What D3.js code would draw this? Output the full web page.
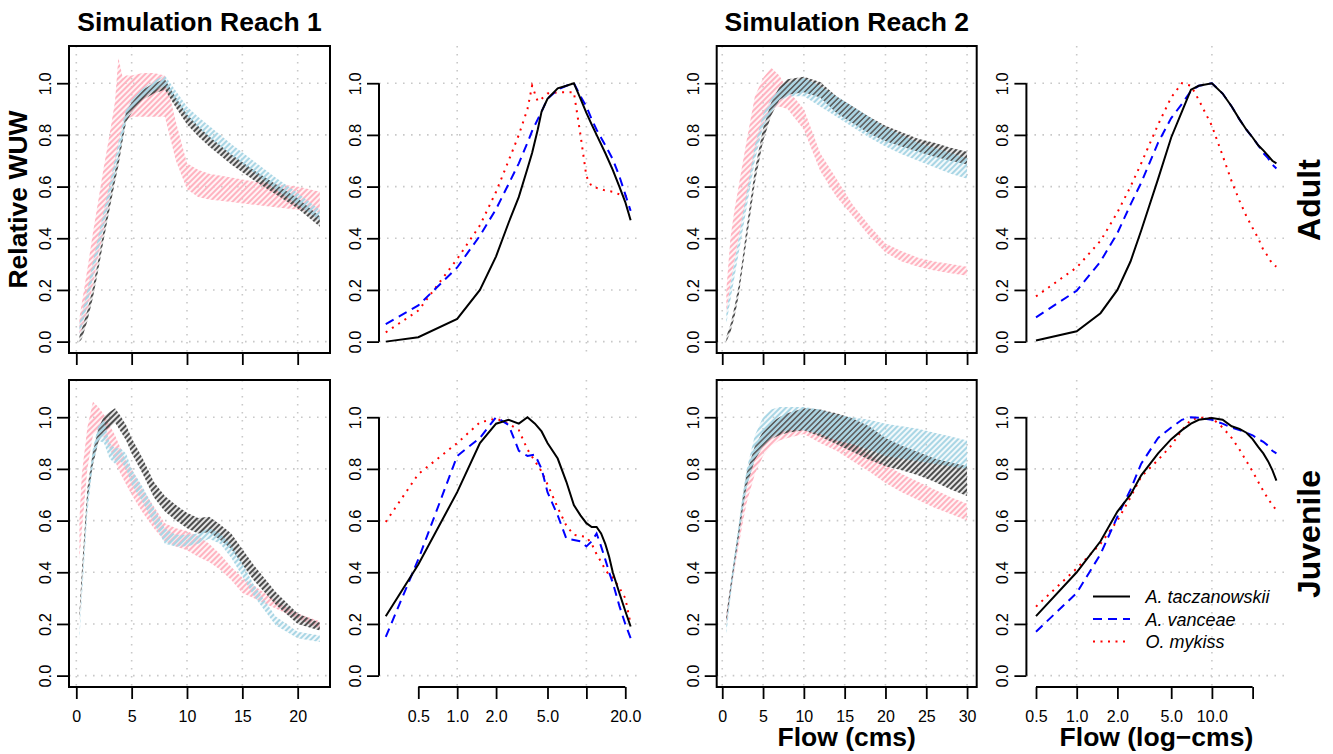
<!DOCTYPE html>
<html>
<head>
<meta charset="utf-8">
<script src="https://cdn.jsdelivr.net/npm/d3@7"></script>
<style>
  body { margin: 0; background: #fff; }
  svg text { font-family: "Liberation Sans", Arial, Helvetica, sans-serif; fill: #000; }
</style>
</head>
<body>
<svg id="chart" width="1333" height="754"></svg>
<script>
// ---------- data (relative WUW) ----------
const speciesNames = ["A. taczanowskii", "A. vanceae", "O. mykiss"];
const yTicks = [0, 0.2, 0.4, 0.6, 0.8, 1.0];

// Reach 1, adult
const r1AdultFlow  = [0.28,0.5,1,1.5,2,2.5,3,3.5,3.8,4.2,4.5,5,6,7,8,9,10,11,12,14,16,18,20,22];
const r1AdultTacLo = [0.00,0.01,0.08,0.17,0.28,0.40,0.51,0.62,0.68,0.78,0.85,0.885,0.935,0.96,0.975,0.905,0.84,0.795,0.755,0.685,0.625,0.57,0.515,0.445];
const r1AdultTacHi = [0.02,0.05,0.12,0.21,0.32,0.44,0.55,0.66,0.72,0.82,0.89,0.925,0.975,1.0,1.015,0.945,0.88,0.835,0.795,0.725,0.665,0.61,0.555,0.485];
const r1AdultVanLo = [0.03,0.06,0.14,0.25,0.35,0.45,0.55,0.65,0.71,0.79,0.86,0.90,0.945,0.97,0.99,0.93,0.87,0.83,0.79,0.72,0.655,0.59,0.53,0.47];
const r1AdultVanHi = [0.07,0.11,0.20,0.31,0.41,0.51,0.61,0.71,0.77,0.85,0.90,0.935,0.98,1.01,1.03,0.97,0.91,0.87,0.835,0.765,0.70,0.635,0.575,0.51];
const r1AdultMykLo = [0.03,0.05,0.12,0.22,0.33,0.44,0.56,0.68,0.76,0.84,0.86,0.87,0.87,0.87,0.87,0.70,0.59,0.56,0.55,0.54,0.53,0.52,0.51,0.50];
const r1AdultMykHi = [0.09,0.15,0.28,0.42,0.55,0.68,0.80,0.93,1.10,1.02,1.03,1.03,1.04,1.04,1.03,0.85,0.69,0.665,0.65,0.635,0.62,0.61,0.60,0.58];
const r1AdultTacMean = [0.0,0.017,0.088,0.20,0.33,0.46,0.56,0.67,0.73,0.82,0.89,0.94,0.98,0.99,1.0,0.94,0.885,0.84,0.80,0.73,0.665,0.60,0.54,0.47];
const r1AdultVanMean = [0.068,0.14,0.287,0.41,0.513,0.61,0.69,0.77,0.815,0.86,0.89,0.94,0.975,0.99,1.0,0.95,0.91,0.86,0.82,0.76,0.706,0.64,0.57,0.506];
const r1AdultMykMean = [0.036,0.12,0.32,0.45,0.58,0.70,0.80,0.90,0.99,0.93,0.94,0.96,0.965,0.965,0.965,0.80,0.64,0.60,0.595,0.585,0.58,0.57,0.565,0.55];

// Reach 2, adult
const r2AdultFlow  = [0.5,1,1.5,2,2.5,3,4,5,6,7,8,10,12,14,16,18,20,22,24,26,28,30];
const r2AdultTacLo = [0.00,0.035,0.095,0.175,0.285,0.395,0.615,0.775,0.875,0.935,0.955,0.965,0.945,0.885,0.845,0.805,0.775,0.755,0.735,0.715,0.70,0.685];
const r2AdultTacHi = [0.02,0.065,0.135,0.215,0.325,0.445,0.665,0.825,0.925,0.985,1.015,1.025,1.005,0.95,0.91,0.87,0.835,0.81,0.785,0.77,0.75,0.735];
const r2AdultVanLo = [0.07,0.16,0.25,0.34,0.43,0.52,0.70,0.83,0.89,0.93,0.95,0.95,0.91,0.87,0.83,0.79,0.755,0.725,0.70,0.675,0.65,0.63];
const r2AdultVanHi = [0.11,0.22,0.31,0.40,0.49,0.58,0.76,0.88,0.94,0.98,1.0,1.02,0.99,0.95,0.91,0.87,0.83,0.80,0.77,0.75,0.73,0.71];
const r2AdultMykLo = [0.11,0.22,0.31,0.40,0.48,0.56,0.73,0.84,0.90,0.91,0.90,0.82,0.66,0.56,0.485,0.41,0.345,0.31,0.29,0.275,0.265,0.255];
const r2AdultMykHi = [0.20,0.40,0.51,0.60,0.69,0.78,0.95,1.02,1.06,1.03,0.975,0.90,0.73,0.63,0.53,0.45,0.38,0.35,0.325,0.31,0.30,0.29];
const r2AdultTacMean = [0.004,0.04,0.11,0.20,0.31,0.43,0.63,0.79,0.89,0.975,0.99,1.0,0.96,0.91,0.86,0.82,0.79,0.76,0.74,0.72,0.70,0.69];
const r2AdultVanMean = [0.094,0.197,0.31,0.42,0.53,0.615,0.77,0.865,0.92,0.97,0.99,1.0,0.96,0.91,0.86,0.82,0.79,0.76,0.73,0.71,0.685,0.67];
const r2AdultMykMean = [0.175,0.287,0.39,0.50,0.60,0.69,0.84,0.945,1.0,0.99,0.935,0.835,0.72,0.62,0.545,0.485,0.44,0.40,0.355,0.33,0.30,0.29];

// Reach 1, juvenile
const r1JuvFlow  = [0.28,0.5,1,1.5,2,2.5,3,3.5,4,4.5,5,6,7,8,9,10,11,12,13,14,15,16,18,20,22];
const r1JuvTacLo = [0.215,0.355,0.675,0.815,0.905,0.945,0.96,0.98,0.945,0.91,0.86,0.78,0.69,0.635,0.60,0.57,0.55,0.555,0.525,0.49,0.43,0.37,0.275,0.20,0.175];
const r1JuvTacHi = [0.245,0.405,0.725,0.865,0.955,1.005,1.02,1.035,1.005,0.97,0.92,0.84,0.75,0.695,0.66,0.63,0.61,0.615,0.585,0.55,0.49,0.43,0.325,0.24,0.205];
const r1JuvVanLo = [0.14,0.30,0.63,0.82,0.91,0.90,0.84,0.82,0.83,0.80,0.74,0.67,0.59,0.51,0.50,0.50,0.51,0.53,0.51,0.455,0.385,0.31,0.195,0.145,0.13];
const r1JuvVanHi = [0.16,0.34,0.69,0.88,0.97,0.99,0.90,0.88,0.88,0.86,0.80,0.73,0.65,0.57,0.545,0.545,0.55,0.57,0.55,0.505,0.435,0.355,0.23,0.17,0.155];
const r1JuvMykLo = [0.45,0.56,0.80,0.93,0.95,0.92,0.88,0.83,0.78,0.74,0.70,0.63,0.57,0.52,0.50,0.485,0.46,0.44,0.41,0.37,0.32,0.30,0.26,0.22,0.18];
const r1JuvMykHi = [0.60,0.78,0.96,1.06,1.04,1.01,0.97,0.93,0.88,0.83,0.80,0.72,0.655,0.59,0.57,0.56,0.54,0.51,0.47,0.42,0.38,0.35,0.29,0.24,0.21];
const r1JuvTacMean = [0.23,0.43,0.71,0.90,0.975,0.99,0.975,1.0,0.975,0.945,0.90,0.84,0.75,0.66,0.62,0.59,0.575,0.575,0.55,0.51,0.46,0.40,0.32,0.25,0.19];
const r1JuvVanMean = [0.15,0.45,0.85,0.92,1.0,0.97,0.87,0.85,0.855,0.80,0.71,0.62,0.53,0.525,0.52,0.50,0.52,0.55,0.50,0.45,0.40,0.36,0.27,0.20,0.145];
const r1JuvMykMean = [0.595,0.78,0.90,0.98,0.995,0.975,0.95,0.875,0.83,0.79,0.74,0.65,0.58,0.545,0.54,0.537,0.51,0.47,0.44,0.41,0.39,0.38,0.34,0.30,0.20];

// Reach 2, juvenile
const r2JuvFlow  = [0.5,1,1.5,2,2.5,3,4,5,6,7,8,10,12,14,16,18,20,22,24,26,28,30];
const r2JuvTacLo = [0.205,0.315,0.425,0.53,0.64,0.735,0.835,0.885,0.915,0.93,0.94,0.95,0.925,0.895,0.865,0.835,0.81,0.795,0.775,0.75,0.72,0.695];
const r2JuvTacHi = [0.235,0.35,0.46,0.57,0.685,0.785,0.89,0.945,0.98,1.0,1.015,1.035,1.03,1.015,0.995,0.965,0.92,0.89,0.865,0.84,0.825,0.81];
const r2JuvVanLo = [0.16,0.30,0.42,0.53,0.64,0.73,0.84,0.89,0.92,0.94,0.95,0.95,0.935,0.91,0.895,0.875,0.85,0.84,0.83,0.82,0.81,0.80];
const r2JuvVanHi = [0.20,0.35,0.47,0.58,0.70,0.80,0.93,1.0,1.03,1.04,1.04,1.04,1.03,1.01,1.0,0.99,0.975,0.965,0.955,0.94,0.925,0.91];
const r2JuvMykLo = [0.20,0.31,0.41,0.50,0.59,0.67,0.78,0.85,0.89,0.91,0.92,0.935,0.90,0.87,0.83,0.79,0.745,0.71,0.68,0.65,0.625,0.60];
const r2JuvMykHi = [0.23,0.35,0.45,0.55,0.65,0.74,0.85,0.91,0.96,0.99,1.02,1.015,0.98,0.94,0.90,0.855,0.815,0.78,0.75,0.72,0.69,0.665];
const r2JuvTacMean = [0.23,0.40,0.52,0.635,0.70,0.775,0.86,0.915,0.95,0.975,0.99,0.997,0.99,0.965,0.955,0.94,0.915,0.885,0.86,0.83,0.795,0.755];
const r2JuvVanMean = [0.17,0.32,0.47,0.615,0.72,0.82,0.92,0.96,0.99,1.0,0.998,0.99,0.975,0.96,0.95,0.94,0.93,0.915,0.905,0.89,0.87,0.86];
const r2JuvMykMean = [0.267,0.415,0.51,0.60,0.69,0.77,0.835,0.89,0.95,0.99,0.998,0.997,0.96,0.92,0.875,0.83,0.79,0.75,0.715,0.685,0.66,0.64];

// axis tick labels
const linTicks1 = [0, 5, 10, 15, 20];
const linTicks2 = [0, 5, 10, 15, 20, 25, 30];
const logTicks = [0.5, 1, 2, 5, 10, 20];
const logLabels2 = ["0.5", "1.0", "2.0", "5.0", "", "20.0"];
const logLabels4 = ["0.5", "1.0", "2.0", "5.0", "10.0", ""];

// ---------- layout ----------
const bandColors = ["#4d4d4d", "#a9d6e5", "#ffb3c0"];
const lineColors = ["#000", "#0000ff", "#ff0000"];
const lineDash = [null, "9,6", "2,5.5"];
const drawOrder = [2, 0, 1]; // pink first, then grey, then blue

const rows = [{top: 46, bottom: 353}, {top: 380, bottom: 687}];
const cols = [
  {left: 69,     right: 330,    log: false, domain: [-0.66, 22.92], ticks: linTicks1, labels: null, grid: linTicks1, box: true},
  {left: 379,    right: 641,    log: true,  domain: [0.2482, 26.47], ticks: logTicks, labels: logLabels2, grid: [1, 10], box: false},
  {left: 716.7,  right: 976.7,  log: false, domain: [-0.68, 31.18], ticks: linTicks2, labels: null, grid: linTicks2, box: true},
  {left: 1026.4, right: 1286.4, log: true,  domain: [0.4246, 35.56], ticks: logTicks, labels: logLabels4, grid: [1, 10], box: false}
];

const panels = [
  {row: 0, col: 0, flow: r1AdultFlow, lo: [r1AdultTacLo, r1AdultVanLo, r1AdultMykLo], hi: [r1AdultTacHi, r1AdultVanHi, r1AdultMykHi]},
  {row: 0, col: 1, flow: r1AdultFlow, lines: [r1AdultTacMean, r1AdultVanMean, r1AdultMykMean]},
  {row: 0, col: 2, flow: r2AdultFlow, lo: [r2AdultTacLo, r2AdultVanLo, r2AdultMykLo], hi: [r2AdultTacHi, r2AdultVanHi, r2AdultMykHi]},
  {row: 0, col: 3, flow: r2AdultFlow, lines: [r2AdultTacMean, r2AdultVanMean, r2AdultMykMean]},
  {row: 1, col: 0, flow: r1JuvFlow, lo: [r1JuvTacLo, r1JuvVanLo, r1JuvMykLo], hi: [r1JuvTacHi, r1JuvVanHi, r1JuvMykHi]},
  {row: 1, col: 1, flow: r1JuvFlow, lines: [r1JuvTacMean, r1JuvVanMean, r1JuvMykMean]},
  {row: 1, col: 2, flow: r2JuvFlow, lo: [r2JuvTacLo, r2JuvVanLo, r2JuvMykLo], hi: [r2JuvTacHi, r2JuvVanHi, r2JuvMykHi]},
  {row: 1, col: 3, flow: r2JuvFlow, lines: [r2JuvTacMean, r2JuvVanMean, r2JuvMykMean]}
];

const svg = d3.select("#chart");
const defs = svg.append("defs");

// diagonal hatching like R's polygon(density=, angle=45)
const hatchOffset = [0, 2, 1];
bandColors.forEach((c, i) => {
  const p = defs.append("pattern")
    .attr("id", "hatch" + i)
    .attr("patternUnits", "userSpaceOnUse")
    .attr("width", 4).attr("height", 10)
    .attr("patternTransform", `rotate(45) translate(${hatchOffset[i]},0)`);
  p.append("line")
    .attr("x1", 2).attr("x2", 2).attr("y1", 0).attr("y2", 10)
    .attr("stroke", c).attr("stroke-width", 2.3);
});

panels.forEach((p, k) => {
  const r = rows[p.row], c = cols[p.col];
  const x = (c.log ? d3.scaleLog() : d3.scaleLinear()).domain(c.domain).range([c.left, c.right]);
  const y = d3.scaleLinear().domain([-0.044, 1.144]).range([r.bottom, r.top]);
  const g = svg.append("g");

  defs.append("clipPath").attr("id", "clip" + k)
    .append("rect").attr("x", c.left).attr("y", r.top)
    .attr("width", c.right - c.left).attr("height", r.bottom - r.top);

  // dotted grid
  const grid = g.append("g").attr("stroke", "#c8c8c8").attr("stroke-width", 1.6)
    .attr("stroke-dasharray", "1.6,6.4");
  grid.selectAll(".gv").data(c.grid).join("line")
    .attr("x1", d => x(d)).attr("x2", d => x(d)).attr("y1", r.top).attr("y2", r.bottom);
  grid.selectAll(".gh").data(yTicks).join("line")
    .attr("x1", c.left).attr("x2", c.right).attr("y1", d => y(d)).attr("y2", d => y(d));

  const plot = g.append("g").attr("clip-path", `url(#clip${k})`);
  if (p.lo) {
    drawOrder.forEach(s => {
      const pts = p.flow.map((f, i) => ({f: f, lo: p.lo[s][i], hi: p.hi[s][i]}));
      plot.append("path").datum(pts)
        .attr("fill", `url(#hatch${s})`)
        .attr("stroke", "none")
        .attr("d", d3.area().x(d => x(d.f)).y0(d => y(d.lo)).y1(d => y(d.hi)));
    });
  } else {
    [2, 1, 0].forEach(s => {
      const pts = p.flow.map((f, i) => ({f: f, v: p.lines[s][i]}));
      plot.append("path").datum(pts)
        .attr("fill", "none")
        .attr("stroke", lineColors[s])
        .attr("stroke-width", 2)
        .attr("stroke-dasharray", lineDash[s])
        .attr("d", d3.line().x(d => x(d.f)).y(d => y(d.v)));
    });
  }

  if (c.box) {
    g.append("rect").attr("x", c.left).attr("y", r.top)
      .attr("width", c.right - c.left).attr("height", r.bottom - r.top)
      .attr("fill", "none").attr("stroke", "#000").attr("stroke-width", 2);
  }

  // y axis (R style: line only from first to last tick)
  const ya = g.append("g").attr("transform", `translate(${c.left},0)`)
    .call(d3.axisLeft(y).tickValues(yTicks).tickFormat(d3.format(".1f")).tickSize(12));
  ya.attr("font-size", null).attr("font-family", null);
  ya.select(".domain").remove();
  ya.selectAll(".tick line").attr("stroke", "#000").attr("stroke-width", 1.8);
  ya.selectAll(".tick text")
    .attr("x", 0).attr("dy", 0)
    .attr("text-anchor", "middle")
    .attr("transform", "translate(-18,0) rotate(-90)")
    .style("font-size", "16.5px");
  ya.append("line").attr("x1", 0).attr("x2", 0).attr("y1", y(0)).attr("y2", y(1))
    .attr("stroke", "#000").attr("stroke-width", 2);

  // x axis
  const showX = c.box || p.row === 1;
  if (showX) {
    const fmt = (d, i) => p.row === 0 ? "" : (c.labels ? c.labels[i] : d3.format("d")(d));
    const xa = g.append("g").attr("transform", `translate(0,${r.bottom})`)
      .call(d3.axisBottom(x).tickValues(c.ticks).tickFormat(fmt).tickSize(12));
    xa.attr("font-size", null).attr("font-family", null);
    xa.select(".domain").remove();
    xa.selectAll(".tick line").attr("stroke", "#000").attr("stroke-width", 1.8);
    xa.selectAll(".tick text").attr("y", 34.5).attr("dy", 0).style("font-size", "16px");
    xa.append("line").attr("y1", 0).attr("y2", 0)
      .attr("x1", x(c.ticks[0])).attr("x2", x(c.ticks[c.ticks.length - 1]))
      .attr("stroke", "#000").attr("stroke-width", 2);
  }
});

// titles and margin labels
const bold = (txt, xx, yy, size, rot) => svg.append("text")
  .attr("transform", `translate(${xx},${yy})` + (rot ? " rotate(-90)" : ""))
  .attr("text-anchor", "middle")
  .style("font-weight", "bold").style("font-size", size + "px")
  .text(txt);

bold("Simulation Reach 1", (cols[0].left + cols[0].right) / 2, 30.5, 26.5, false);
bold("Simulation Reach 2", (cols[2].left + cols[2].right) / 2, 30.5, 26.5, false);
bold("Relative WUW", 26.5, (rows[0].top + rows[0].bottom) / 2, 26.5, true);
bold("Adult", 1320, 200, 32, true);
bold("Juvenile", 1320, 534, 32, true);
bold("Flow (cms)", (cols[2].left + cols[2].right) / 2, 746, 26.5, false);
bold("Flow (log\u2212cms)", (cols[3].left + cols[3].right) / 2, 746, 26.5, false);

// legend (bottom-right panel)
const legend = svg.append("g").attr("transform", "translate(1093,596.5)");
speciesNames.forEach((name, i) => {
  const row = legend.append("g").attr("transform", `translate(0,${i * 22.5})`);
  row.append("line").attr("x1", 0).attr("x2", 37).attr("y1", 0).attr("y2", 0)
    .attr("stroke", lineColors[i]).attr("stroke-width", 2)
    .attr("stroke-dasharray", lineDash[i]);
  row.append("text").attr("x", 52.5).attr("y", 6.5)
    .style("font-style", "italic").style("font-size", "18px")
    .text(name);
});
</script>
</body>
</html>
